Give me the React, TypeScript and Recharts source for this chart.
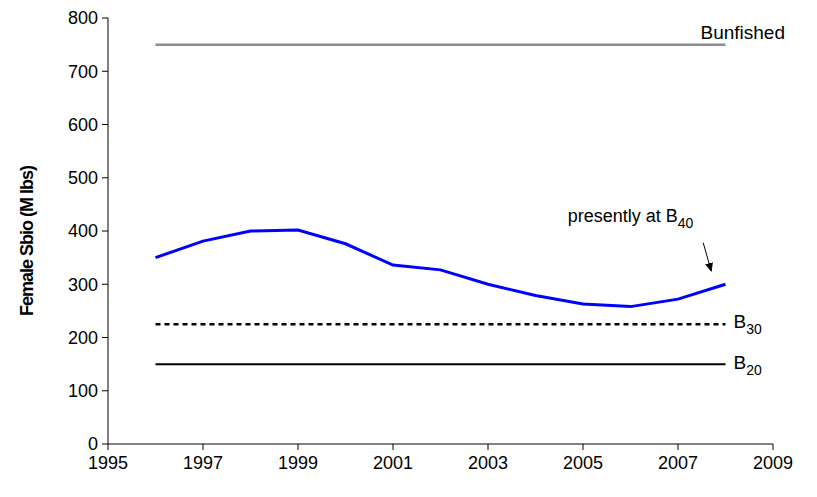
import { LineChart, Line, XAxis, YAxis, ReferenceDot, ReferenceLine } from "recharts";

document.body.style.margin = "0";

const years = [1996, 1997, 1998, 1999, 2000, 2001, 2002, 2003, 2004, 2005, 2006, 2007, 2008];
const sbio = [350, 381, 400, 402, 376, 336, 327, 300, 279, 263, 258, 272, 300];
const bUnfished = 750;
const b30 = 225;
const b20 = 150;
const xTicks = [1995, 1997, 1999, 2001, 2003, 2005, 2007, 2009];
const yTicks = [0, 100, 200, 300, 400, 500, 600, 700, 800];

const data = years.map((year, i) => ({ year, sbio: sbio[i], unf: bUnfished, b30, b20 }));

const font = "Liberation Sans, Arial, sans-serif";

const endLabel = (main: string, sub: string, dx: number, dy: number) => (props: any) => {
  if (props.index !== years.length - 1) return null;
  return (
    <text x={props.x + dx} y={props.y + dy} fontSize={19} fontFamily={font} fill="#000">
      {main}
      {sub && <tspan fontSize={14} dy={6}>{sub}</tspan>}
    </text>
  );
};

export default function App() {
  return (
    <div>
      <svg width={0} height={0} style={{ position: "absolute" }}>
        <defs>
          <marker id="arr" markerWidth={10} markerHeight={10} refX={8} refY={5} orient="auto" markerUnits="userSpaceOnUse">
            <path d="M0,1 L9,5 L0,9 Z" fill="#000" />
          </marker>
        </defs>
      </svg>
      <LineChart width={817} height={497} data={data} margin={{ top: 18, right: 44, left: 48, bottom: 18 }}>
        <XAxis
          dataKey="year"
          type="number"
          domain={[1995, 2009]}
          ticks={xTicks}
          tick={{ fill: "#000", fontSize: 18, fontFamily: font }}
          axisLine={{ stroke: "#000" }}
          tickLine={{ stroke: "#000" }}
          tickMargin={6}
          height={35}
        />
        <YAxis
          domain={[0, 800]}
          ticks={yTicks}
          tick={{ fill: "#000", fontSize: 18, fontFamily: font }}
          axisLine={{ stroke: "#000" }}
          tickLine={{ stroke: "#000" }}
          tickMargin={4}
          width={60}
          label={{
            value: "Female Sbio (M lbs)",
            angle: -90,
            position: "insideLeft",
            dx: -26,
            dy: 85,
            style: { fontSize: 18, fontWeight: "bold", fontFamily: font, fill: "#000", letterSpacing: -1 },
          }}
        />
        <Line dataKey="unf" stroke="#8c8c8c" strokeWidth={2.5} dot={false} isAnimationActive={false}
          label={endLabel("Bunfished", "", -25, -6)} />
        <Line dataKey="b30" stroke="#000" strokeWidth={2.5} strokeDasharray="5 4" dot={false} isAnimationActive={false}
          label={endLabel("B", "30", 8, 4)} />
        <Line dataKey="b20" stroke="#000" strokeWidth={2} dot={false} isAnimationActive={false}
          label={endLabel("B", "20", 8, 5)} />
        <Line dataKey="sbio" stroke="#0000ff" strokeWidth={3} dot={false} type="linear" isAnimationActive={false} />
        <ReferenceDot x={2006} y={417} r={0} stroke="none"
          label={(p: any) => (
            <text x={p.viewBox.x} y={p.viewBox.y} textAnchor="middle" fontSize={18} fontFamily={font} fill="#000">
              presently at B<tspan fontSize={14} dy={6}>40</tspan>
            </text>
          )} />
        <ReferenceLine segment={[{ x: 2007.53, y: 378 }, { x: 2007.7, y: 325 }]} stroke="#000" strokeWidth={1} markerEnd="url(#arr)" />
      </LineChart>
    </div>
  );
}
